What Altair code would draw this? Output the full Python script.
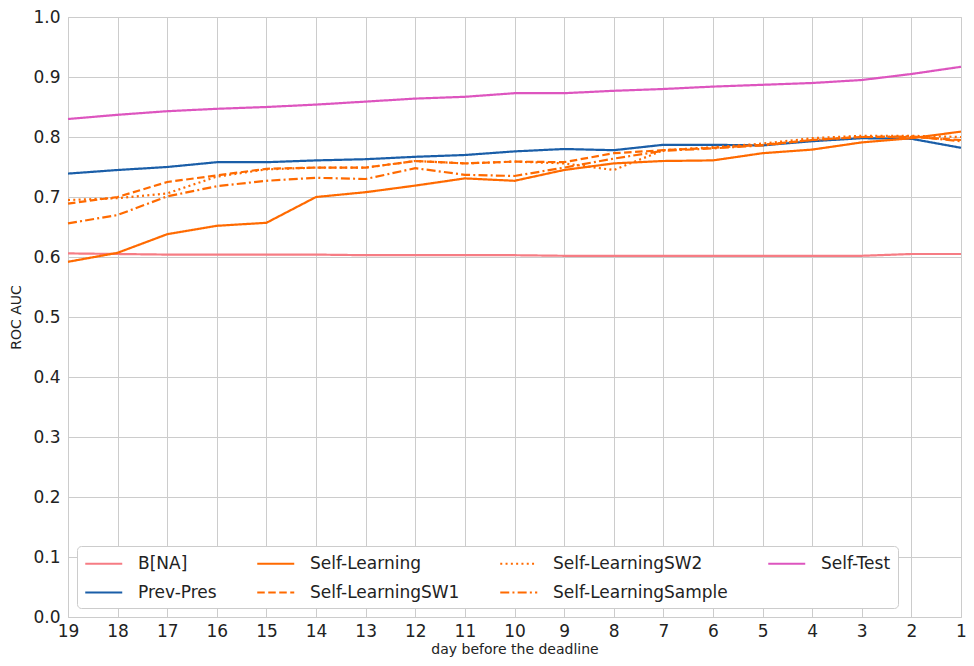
import altair as alt
import pandas as pd

days = list(range(19, 0, -1))

b_na = [0.606, 0.605, 0.604, 0.604, 0.604, 0.604, 0.603, 0.603, 0.603, 0.603, 0.602, 0.602, 0.602, 0.602, 0.602, 0.602, 0.602, 0.605, 0.605]
prev_pres = [0.739, 0.745, 0.750, 0.758, 0.758, 0.761, 0.763, 0.767, 0.770, 0.776, 0.780, 0.778, 0.787, 0.787, 0.786, 0.793, 0.798, 0.797, 0.782]
self_learning = [0.592, 0.607, 0.638, 0.652, 0.657, 0.700, 0.708, 0.719, 0.731, 0.727, 0.745, 0.756, 0.760, 0.761, 0.773, 0.779, 0.791, 0.798, 0.809]
self_learning_sw1 = [0.689, 0.700, 0.725, 0.736, 0.747, 0.749, 0.749, 0.760, 0.756, 0.759, 0.758, 0.773, 0.778, 0.782, 0.787, 0.795, 0.800, 0.800, 0.795]
self_learning_sw2 = [0.695, 0.698, 0.706, 0.734, 0.746, 0.749, 0.749, 0.760, 0.756, 0.759, 0.756, 0.745, 0.778, 0.783, 0.789, 0.798, 0.802, 0.802, 0.800]
self_learning_sample = [0.656, 0.670, 0.701, 0.718, 0.727, 0.732, 0.730, 0.748, 0.737, 0.735, 0.749, 0.764, 0.777, 0.781, 0.786, 0.795, 0.800, 0.801, 0.793]
self_test = [0.830, 0.837, 0.843, 0.847, 0.850, 0.854, 0.859, 0.864, 0.867, 0.873, 0.873, 0.877, 0.880, 0.884, 0.887, 0.890, 0.895, 0.905, 0.917]

series_names = ["B[NA]", "Prev-Pres", "Self-Learning", "Self-LearningSW1",
                "Self-LearningSW2", "Self-LearningSample", "Self-Test"]
series_values = [b_na, prev_pres, self_learning, self_learning_sw1,
                 self_learning_sw2, self_learning_sample, self_test]

y_ticks = [0.0, 0.1, 0.2, 0.3, 0.4, 0.5, 0.6, 0.7, 0.8, 0.9, 1.0]

colors = {
    "B[NA]": "#f67c84",
    "Prev-Pres": "#1a5ea8",
    "Self-Learning": "#ff6a00",
    "Self-LearningSW1": "#ff6a00",
    "Self-LearningSW2": "#ff6a00",
    "Self-LearningSample": "#ff6a00",
    "Self-Test": "#dd55bf",
}
dashes = {
    "B[NA]": [1, 0],
    "Prev-Pres": [1, 0],
    "Self-Learning": [1, 0],
    "Self-LearningSW1": [7.5, 3.5],
    "Self-LearningSW2": [2, 3.3],
    "Self-LearningSample": [9, 3.2, 2, 3.2],
    "Self-Test": [1, 0],
}

rows = []
for name, vals in zip(series_names, series_values):
    for d, v in zip(days, vals):
        rows.append({"day": d, "auc": v, "series": name})
df = pd.DataFrame(rows)

legend = alt.Legend(
    title=None, orient="bottom-left", offset=9, columns=4,
    symbolType="M-1,0H3", symbolSize=342, symbolStrokeWidth=2.2,
    labelFontSize=17, labelOffset=33, labelColor="#222222",
    columnPadding=35, rowPadding=10, padding=7,
    strokeColor="#cccccc", fillColor="white", cornerRadius=4,
    labelLimit=400,
)

chart = alt.Chart(df).mark_line(strokeWidth=2.2).encode(
    x=alt.X("day:Q", scale=alt.Scale(domain=[19, 1], nice=False, zero=False),
            axis=alt.Axis(values=days, format="d", title="day before the deadline",
                          labelPadding=6, titlePadding=3, labelFlush=False)),
    y=alt.Y("auc:Q", scale=alt.Scale(domain=[0, 1], nice=False),
            axis=alt.Axis(values=y_ticks, format=".1f", title="ROC AUC",
                          labelPadding=8, titlePadding=9, labelFlush=False)),
    color=alt.Color("series:N", sort=series_names,
                    scale=alt.Scale(domain=series_names, range=[colors[s] for s in series_names]),
                    legend=legend),
    strokeDash=alt.StrokeDash("series:N", sort=series_names,
                              scale=alt.Scale(domain=series_names, range=[dashes[s] for s in series_names]),
                              legend=legend),
).properties(
    width=893, height=600,
    autosize=alt.AutoSizeParams(type="none"),
    padding={"left": 60, "top": 9, "right": 5, "bottom": 40},
).configure(
    font="DejaVu Sans",
).configure_view(
    stroke="#cccccc", strokeWidth=1,
).configure_axis(
    grid=True, gridColor="#cccccc", gridWidth=1, domain=False, ticks=False,
    labelFontSize=17, labelColor="#222222", titleFontSize=14,
    titleFontWeight="normal", titleColor="#222222",
)

chart.save("out.html", embed_options={"renderer": "svg", "actions": False})
